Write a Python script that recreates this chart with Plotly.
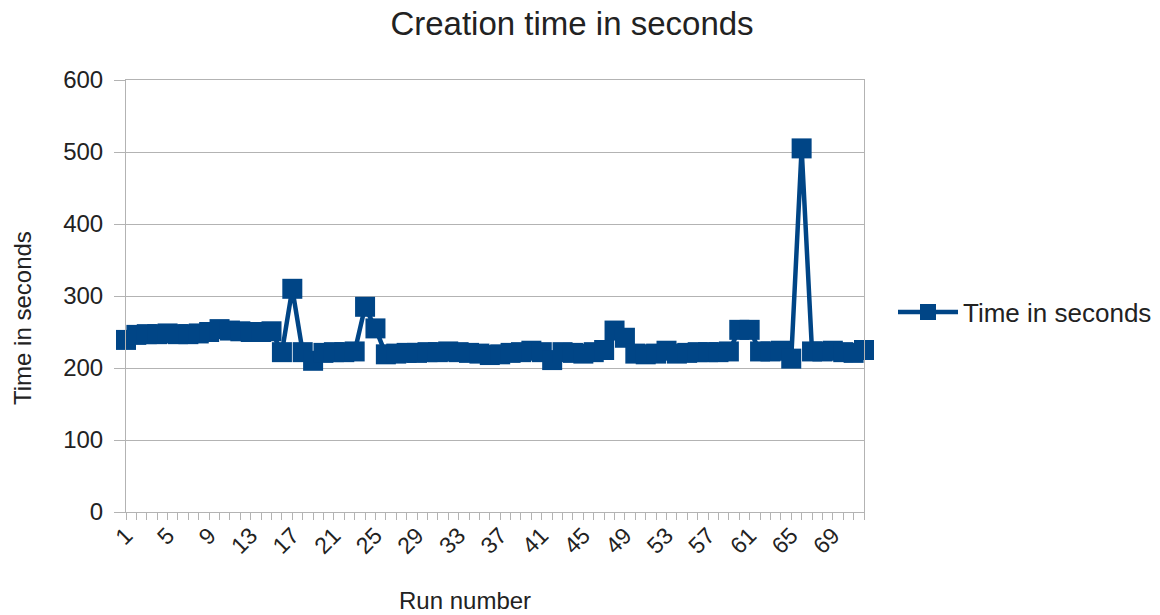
import plotly.graph_objects as go

run_numbers = list(range(1, 73))
time_seconds = [
    239, 246, 247, 247, 248, 247, 247, 248, 250, 254,
    252, 251, 250, 250, 251, 222, 310, 222, 210, 221,
    222, 222, 223, 285, 255, 219, 220, 221, 221, 222,
    222, 223, 222, 221, 220, 218, 219, 221, 222, 224,
    222, 211, 222, 221, 220, 222, 225, 252, 242, 220,
    219, 220, 224, 220, 221, 222, 222, 222, 223, 253,
    253, 223, 223, 224, 213, 505, 223, 223, 224, 222,
    221, 225,
]
tick_vals = list(range(1, 73, 4))
tick_text = [str(v) for v in tick_vals]
y_ticks = [0, 100, 200, 300, 400, 500, 600]

BLUE = "#004586"
GRID = "#b3b3b3"
TXT = "#222222"
FONT = "Liberation Sans, Arial, sans-serif"

W, H = 1160, 615
L, T, PW, PH = 126, 80, 738, 432

fig = go.Figure()
fig.add_trace(go.Scatter(
    x=run_numbers, y=time_seconds, mode="lines+markers",
    name="Time in seconds", cliponaxis=False,
    line=dict(color=BLUE, width=4.5),
    marker=dict(symbol="square", size=20, color=BLUE),
))

fig.update_layout(
    width=W, height=H,
    margin=dict(l=L, r=W - L - PW, t=T, b=H - T - PH, autoexpand=False),
    paper_bgcolor="white", plot_bgcolor="white",
    font=dict(family=FONT, color=TXT, size=22),
    title=dict(text="Creation time in seconds", x=572 / W, y=1 - 23 / H,
               xanchor="center", yanchor="middle",
               font=dict(size=33, family=FONT, color=TXT)),
    showlegend=True,
    legend=dict(xref="container", yref="container",
                x=893 / W, y=1 - 312 / H, xanchor="left", yanchor="middle",
                font=dict(size=26, family=FONT, color=TXT),
                itemwidth=60, bgcolor="rgba(0,0,0,0)"),
    xaxis=dict(
        range=[1, 72], tickmode="array", tickvals=tick_vals, ticktext=tick_text,
        tickangle=-45, ticks="", showgrid=False, zeroline=False,
        showline=True, linecolor=GRID, linewidth=1, mirror=True,
        tickfont=dict(size=23, family=FONT, color=TXT),
        minor=dict(tick0=1, dtick=1, ticks="outside", ticklen=7,
                   tickcolor=GRID, showgrid=False),
    ),
    yaxis=dict(
        range=[0, 600], tickmode="array", tickvals=y_ticks,
        showgrid=True, gridcolor=GRID, gridwidth=1, zeroline=False,
        showline=True, linecolor=GRID, linewidth=1, mirror=True,
        ticks="outside", ticklen=11, tickcolor=GRID, ticklabelstandoff=6,
        tickfont=dict(size=24, family=FONT, color=TXT),
    ),
    annotations=[
        dict(text="Time in seconds", xref="paper", yref="paper",
             x=(22 - L) / PW, y=(PH + T - 318) / PH, xanchor="center", yanchor="middle",
             textangle=-90, showarrow=False,
             font=dict(size=24, family=FONT, color=TXT)),
        dict(text="Run number", xref="paper", yref="paper",
             x=(465 - L) / PW, y=(PH + T - 600) / PH, xanchor="center", yanchor="middle",
             showarrow=False, font=dict(size=24, family=FONT, color=TXT)),
    ],
)

fig.write_html("out.html", config={"displayModeBar": False},
               post_script="document.body.style.margin='0';document.body.style.padding='0';")
